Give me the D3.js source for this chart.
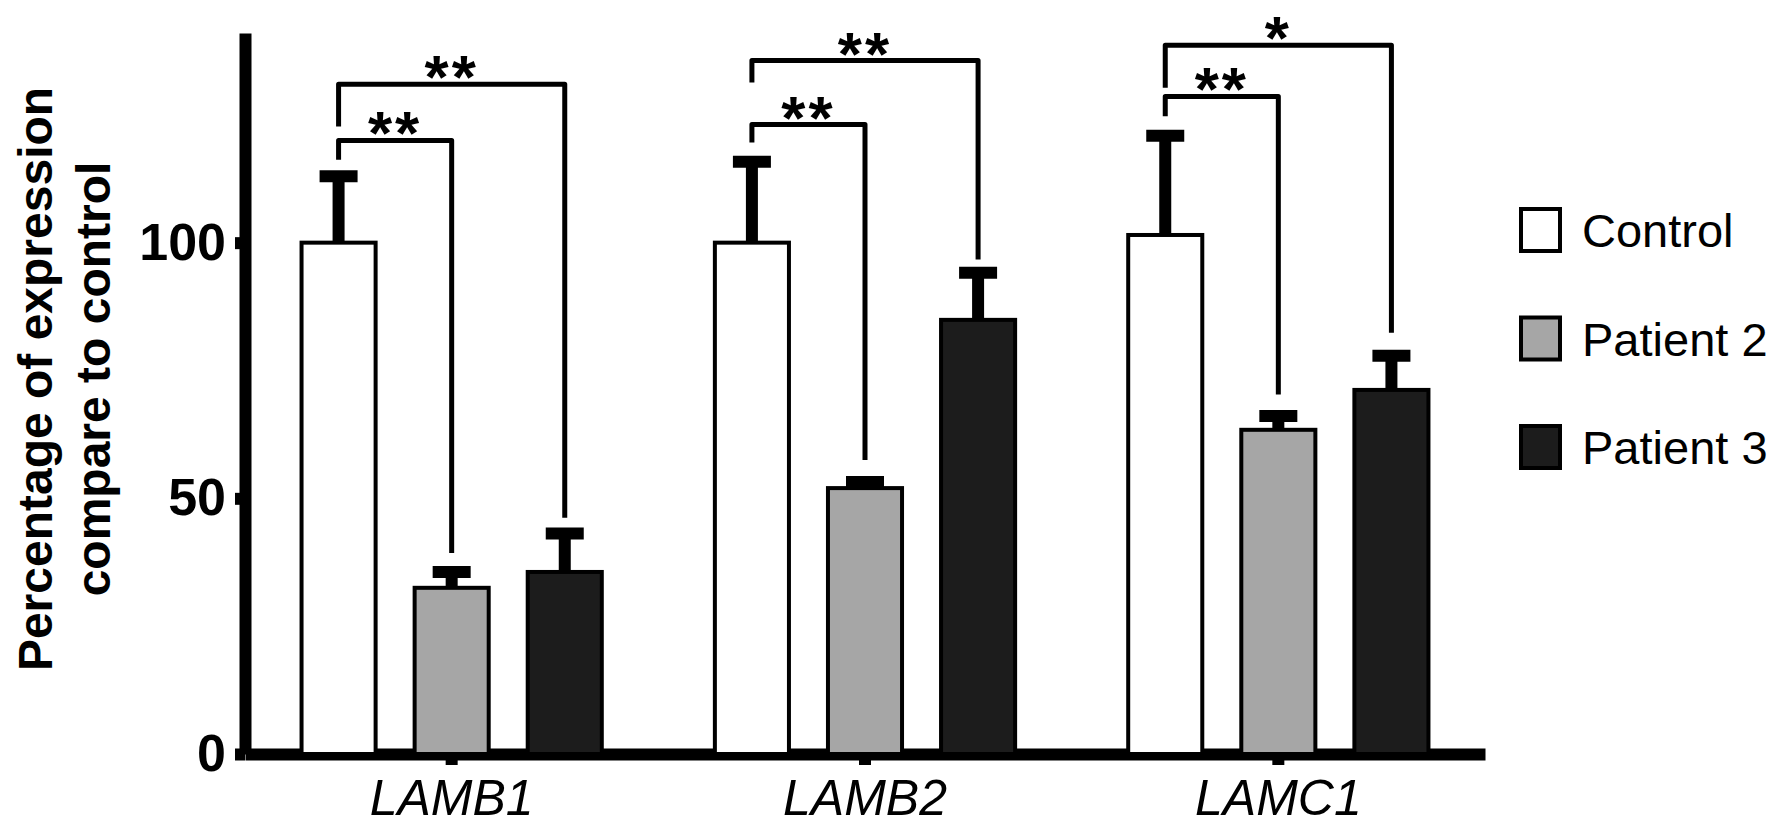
<!DOCTYPE html>
<html>
  <head>
    <meta charset="utf-8">
    <title>Laminin expression bar chart</title>
    <script src="https://d3js.org/d3.v7.min.js"></script>
    <style>
      body { margin: 0; background: #fff; }
      svg { display: block; font-family: "Liberation Sans", Arial, sans-serif; }
      .axis path, .axis line { stroke: #000; stroke-width: 12; }
      .y-axis text { font-size: 52px; font-weight: bold; fill: #000; }
      .x-axis text { font-size: 50px; font-style: italic; fill: #000; }
      .ytitle { font-size: 48px; font-weight: bold; }
      .stars { font-size: 62px; font-weight: bold; }
      .legend text { font-size: 47px; }
    </style>
  </head>
  <body>
    <svg width="1781" height="825"></svg>
    <script>
      // data
      var genes = ["LAMB1", "LAMB2", "LAMC1"];
      var series = ["Control", "Patient 2", "Patient 3"];
      var control = [100, 100, 101.5];
      var controlErr = [13, 15.8, 19.4];
      var patient2 = [32.5, 52, 63.4];
      var patient2Err = [3.1, 1.2, 2.7];
      var patient3 = [35.6, 84.9, 71.2];
      var patient3Err = [7.5, 9.2, 6.7];
      var yTicks = [0, 50, 100];

      // significance brackets (Control vs patient)
      var bracketGene = ["LAMB1", "LAMB1", "LAMB2", "LAMB2", "LAMC1", "LAMC1"];
      var bracketTo = ["Patient 2", "Patient 3", "Patient 2", "Patient 3", "Patient 2", "Patient 3"];
      var bracketLevel = [120, 131, 123.1, 135.6, 128.6, 138.6];
      var bracketLeftEnd = [116.2, 122.7, 119.6, 131.3, 124.7, 130.3];
      var bracketRightEnd = [39.3, 46.2, 57.5, 96.7, 70.3, 82.4];
      var bracketLabel = ["**", "**", "**", "**", "**", "*"];

      var fills = ["#ffffff", "#a6a6a6", "#1c1c1c"];

      var means = [control, patient2, patient3];
      var errs = [controlErr, patient2Err, patient3Err];

      var rows = [];
      genes.forEach(function(g, i) {
        series.forEach(function(s, j) {
          rows.push({gene: g, series: s, value: means[j][i], err: errs[j][i], fill: fills[j]});
        });
      });

      var svg = d3.select("svg");

      // scales
      var y = d3.scaleLinear().domain([0, 141]).range([754, 33]);
      var x0 = d3.scaleBand().domain(genes).range([245, 1485]).padding(0);
      var x1 = d3.scaleBand().domain(series).range([0, x0.bandwidth()])
        .paddingInner(0.345).paddingOuter(0.5);

      function cx(g, s) { return x0(g) + x1(s) + x1.bandwidth() / 2; }

      // axes
      svg.append("g")
        .attr("class", "axis x-axis")
        .attr("transform", "translate(0," + y(0) + ")")
        .call(d3.axisBottom(x0).tickSize(11).tickPadding(14).tickSizeOuter(0));

      svg.append("g")
        .attr("class", "axis y-axis")
        .attr("transform", "translate(245,0)")
        .call(d3.axisLeft(y).tickValues(yTicks).tickSize(10).tickPadding(9).tickSizeOuter(0));

      // y title
      var title = svg.append("text")
        .attr("class", "ytitle")
        .attr("text-anchor", "middle")
        .attr("transform", "translate(52,379) rotate(-90)");
      title.append("tspan").attr("x", 0).attr("y", 0).text("Percentage of expression");
      title.append("tspan").attr("x", 0).attr("y", 58).text("compare to control");

      // error bars (upper only)
      var eb = svg.append("g");
      eb.selectAll(".stem")
        .data(rows).enter().append("line")
        .attr("x1", function(d) { return cx(d.gene, d.series); })
        .attr("x2", function(d) { return cx(d.gene, d.series); })
        .attr("y1", function(d) { return y(d.value); })
        .attr("y2", function(d) { return y(d.value + d.err); })
        .attr("stroke", "#000").attr("stroke-width", 12);
      eb.selectAll(".cap")
        .data(rows).enter().append("line")
        .attr("x1", function(d) { return cx(d.gene, d.series) - 19; })
        .attr("x2", function(d) { return cx(d.gene, d.series) + 19; })
        .attr("y1", function(d) { return y(d.value + d.err); })
        .attr("y2", function(d) { return y(d.value + d.err); })
        .attr("stroke", "#000").attr("stroke-width", 12);

      // bars
      svg.append("g").selectAll("rect")
        .data(rows).enter().append("rect")
        .attr("x", function(d) { return x0(d.gene) + x1(d.series); })
        .attr("y", function(d) { return y(d.value); })
        .attr("width", x1.bandwidth())
        .attr("height", function(d) { return y(0) - y(d.value); })
        .attr("fill", function(d) { return d.fill; })
        .attr("stroke", "#000")
        .attr("stroke-width", 4);

      // brackets and stars
      var br = svg.append("g");
      bracketGene.forEach(function(g, i) {
        var xl = cx(g, "Control");
        var xr = cx(g, bracketTo[i]);
        br.append("path")
          .attr("d", "M" + xl + "," + y(bracketLeftEnd[i]) + "V" + y(bracketLevel[i]) +
            "H" + xr + "V" + y(bracketRightEnd[i]))
          .attr("fill", "none")
          .attr("stroke", "#000")
          .attr("stroke-width", 5)
          .attr("stroke-linejoin", "round");
        br.append("text")
          .attr("class", "stars")
          .attr("text-anchor", "middle")
          .attr("letter-spacing", 3)
          .attr("x", (xl + xr) / 2)
          .attr("y", y(bracketLevel[i]) + 14)
          .text(bracketLabel[i]);
      });

      // legend
      var legendY = d3.scalePoint().domain(series).range([230, 447]);
      var lg = svg.append("g").attr("class", "legend");
      series.forEach(function(s, j) {
        lg.append("rect")
          .attr("x", 1521).attr("y", legendY(s) - 21)
          .attr("width", 39).attr("height", 42)
          .attr("fill", fills[j]).attr("stroke", "#000").attr("stroke-width", 4);
        lg.append("text")
          .attr("x", 1582).attr("y", legendY(s) + 17)
          .text(s);
      });
    </script>
  </body>
</html>
